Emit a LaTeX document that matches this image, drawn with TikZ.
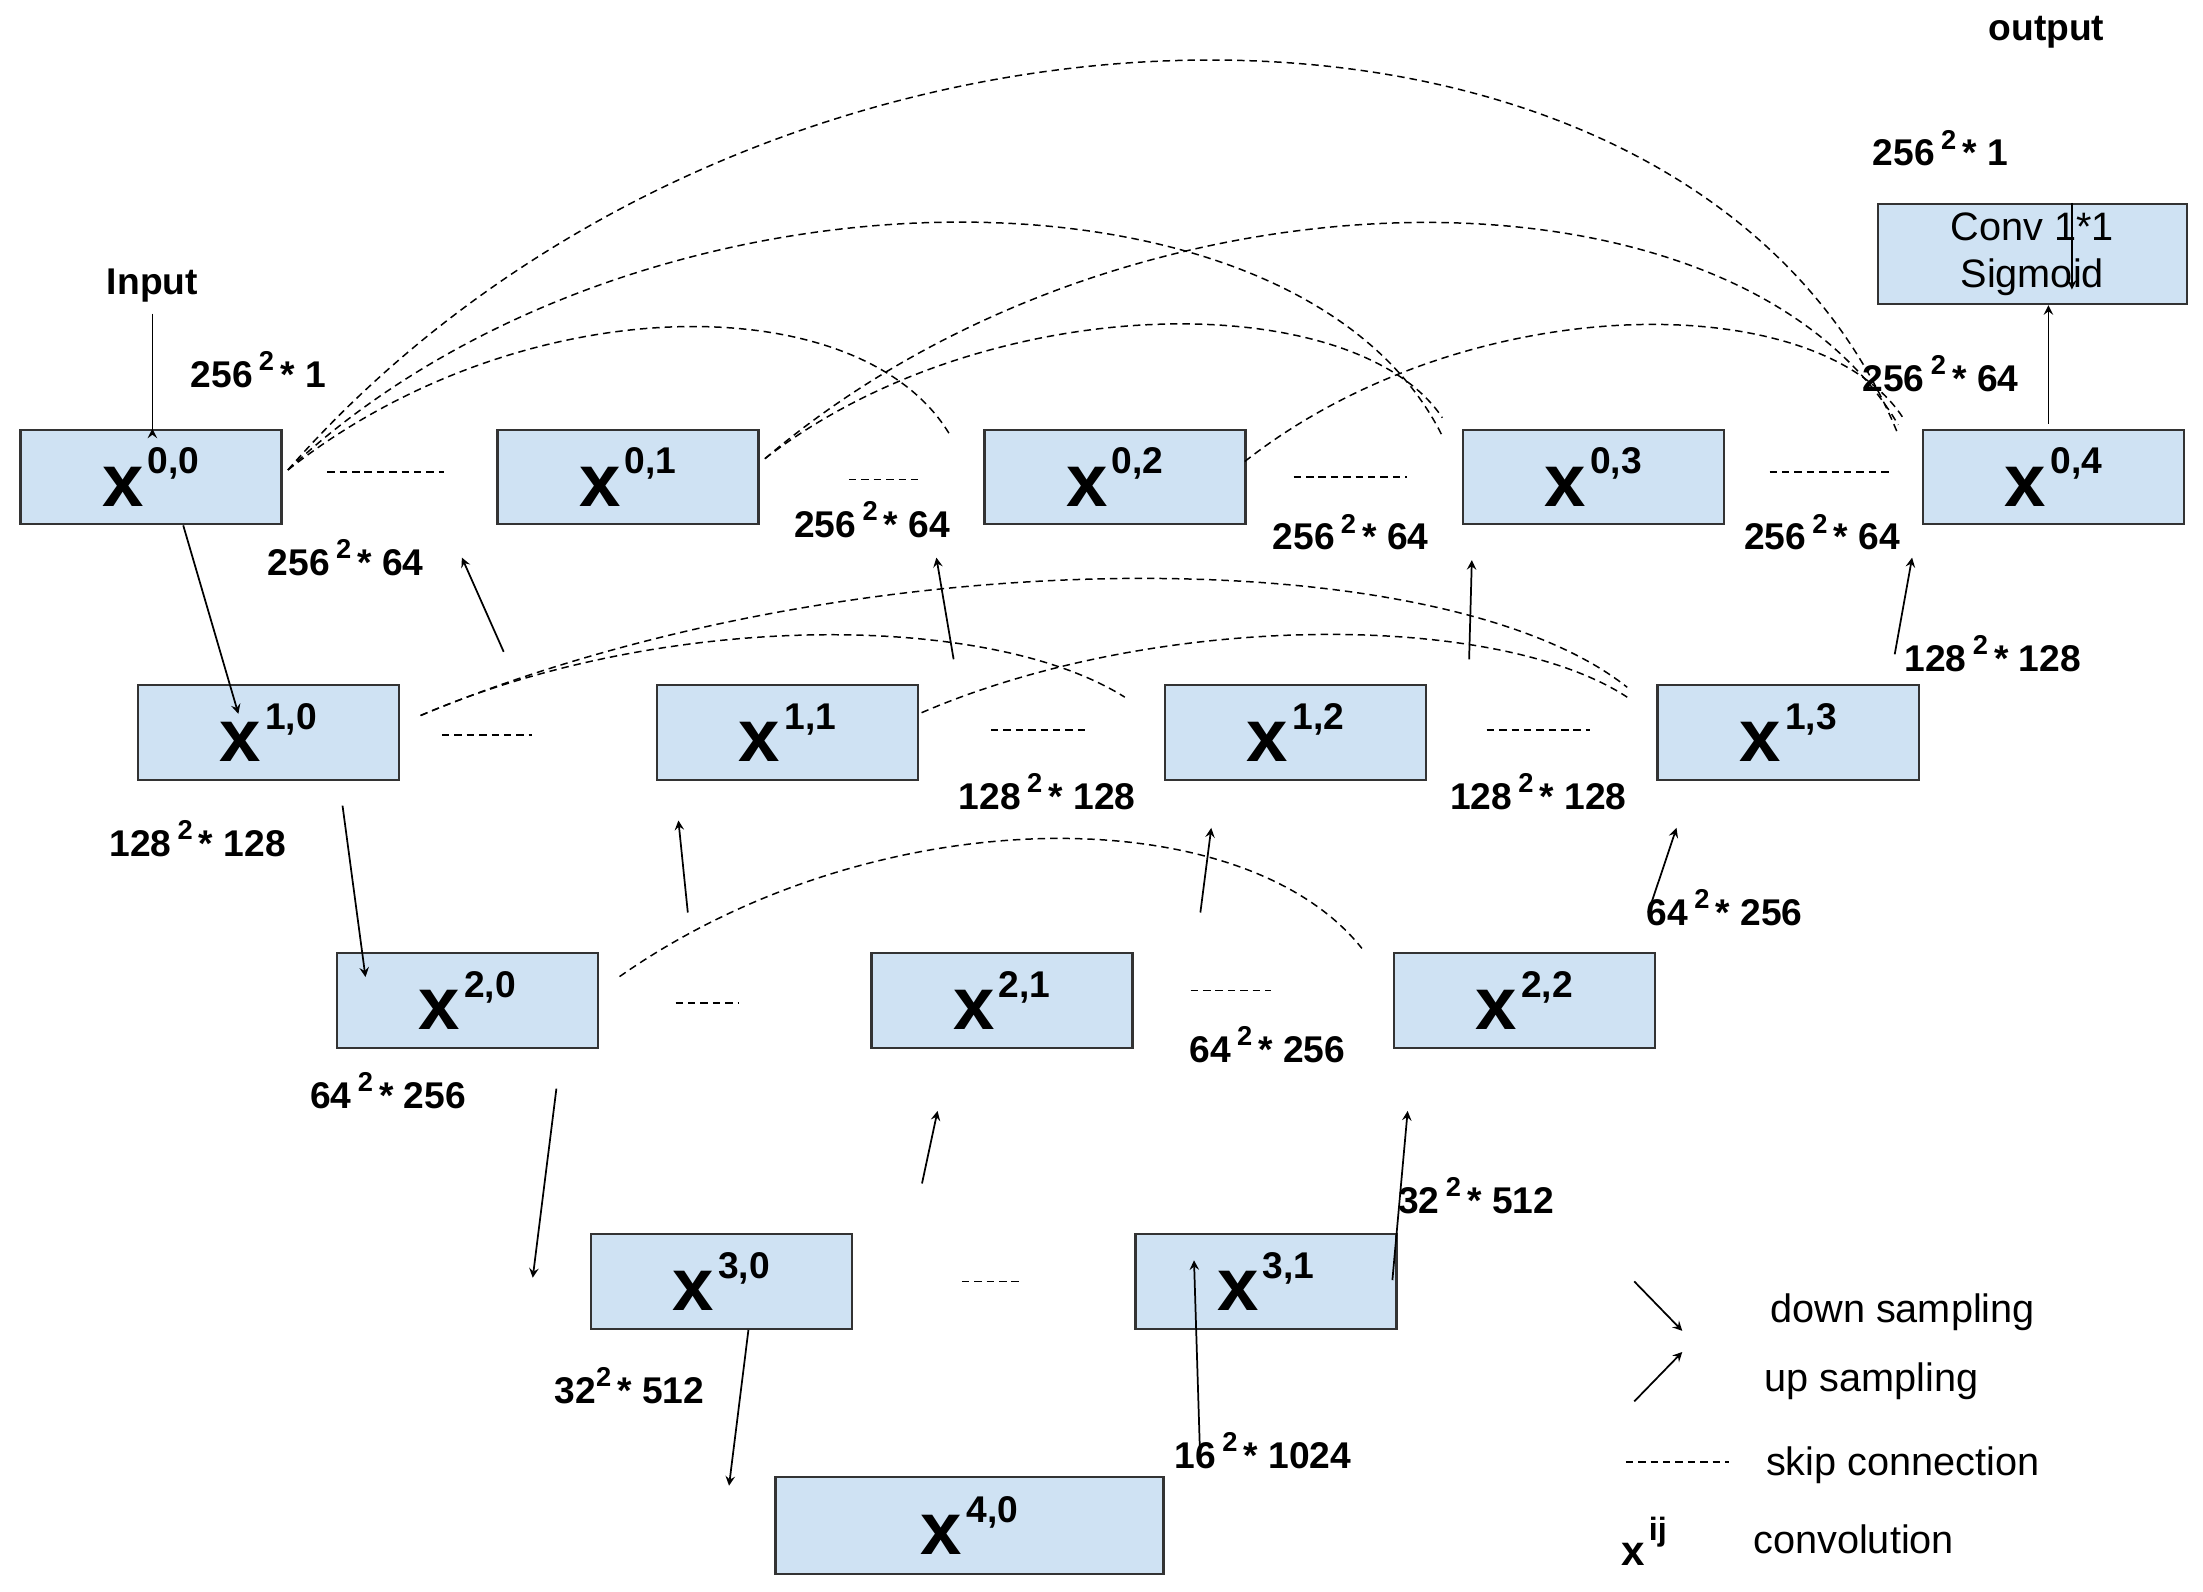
\documentclass[tikz,border=0pt]{standalone}
\usepackage{fontspec}
\setmainfont{Liberation Sans}
\newcommand\dl[2]{#1\,\raisebox{0.45em}{\fontsize{11}{11}\selectfont 2}\,* #2}
\newcommand\xn[1]{{\fontsize{30}{30}\selectfont\bfseries x}\,\raisebox{13pt}{\fontsize{15}{15}\selectfont\bfseries #1}}
\begin{document}
\begin{tikzpicture}[x=0.02cm,y=-0.02cm,
  blk/.style={draw=black!80,line width=0.9pt,fill={rgb,255:red,207;green,226;blue,243},minimum width=3.7cm,minimum height=1.34cm,inner sep=0pt},
  lab/.style={font=\fontsize{15}{15}\selectfont\bfseries,inner sep=0pt},
  leg/.style={font=\fontsize{16}{16}\selectfont,inner sep=0pt,anchor=west},
  ar/.style={->,>=stealth,line width=0.7pt},
  sk/.style={dashed,dash pattern=on 3pt off 2pt,line width=0.6pt}]
\useasboundingbox (0,0) rectangle (1561,1128);
\node[blk] (x00) at (107,338) {\xn{0,0}};
\node[blk] (x01) at (445,338) {\xn{0,1}};
\node[blk] (x02) at (790,338) {\xn{0,2}};
\node[blk] (x03) at (1129,338) {\xn{0,3}};
\node[blk] (x04) at (1455,338) {\xn{0,4}};
\node[blk] (x10) at (190,519) {\xn{1,0}};
\node[blk] (x11) at (558,519) {\xn{1,1}};
\node[blk] (x12) at (918,519) {\xn{1,2}};
\node[blk] (x13) at (1267,519) {\xn{1,3}};
\node[blk] (x20) at (331,709) {\xn{2,0}};
\node[blk] (x21) at (710,709) {\xn{2,1}};
\node[blk] (x22) at (1080,709) {\xn{2,2}};
\node[blk] (x30) at (511,908) {\xn{3,0}};
\node[blk] (x31) at (897,908) {\xn{3,1}};
\node[blk,minimum width=5.5cm,minimum height=1.38cm] (x40) at (687,1081) {\xn{4,0}};
\node[blk,minimum width=4.38cm,minimum height=1.42cm,align=center,font=\fontsize{16}{19}\selectfont] (conv) at (1440,180) {Conv 1*1\\Sigmoid};
\node[lab] (inp) at (108,202) {Input};
\node[lab] (out) at (1450,23) {output};
% arrows
\draw[ar] (inp.south) ++(0,8) coordinate (i1) -- (i1 |- x00.north) ++(0,0);
\draw[ar] ([xshift=13]x00.south) -- ([xshift=-12,yshift=-12]x10.north);
\draw[ar] ([xshift=30,yshift=-10]x10.south) -- ([xshift=-41,yshift=-10]x20.north);
\draw[ar] ([xshift=36,yshift=-16]x20.south) -- ([xshift=-76,yshift=-18]x30.north);
\draw[ar] ([xshift=11]x30.south) -- ([xshift=-97,yshift=-4]x40.north);
\draw[ar] ([xshift=93,yshift=7]x40.north) -- ([xshift=-29,yshift=-11]x31.north);
\draw[ar] ([xshift=51,yshift=-19]x31.north) -- ([xshift=-47,yshift=-25]x22.south);
\draw[ar] ([xshift=81,yshift=20]x30.north) -- ([xshift=-26,yshift=-25]x21.south);
\draw[ar] ([xshift=80,yshift=16]x21.north) -- ([xshift=-34,yshift=-19]x12.south);
\draw[ar] ([xshift=50,yshift=16]x22.north) -- ([xshift=-45,yshift=-19]x13.south);
\draw[ar] ([xshift=89,yshift=16]x20.north) -- ([xshift=-44,yshift=-16]x11.south);
\draw[ar] ([xshift=67,yshift=10]x11.north) -- ([xshift=-72,yshift=-13]x02.south);
\draw[ar] ([xshift=70,yshift=10]x12.north) -- ([xshift=-49,yshift=-14]x03.south);
\draw[ar] ([xshift=43,yshift=12]x13.north) -- ([xshift=-57,yshift=-13]x04.south);
\draw[ar] ([xshift=95,yshift=13]x10.north) -- ([xshift=-67,yshift=-13]x01.south);
\draw[ar] ([xshift=-2,yshift=2]x04.north) -- ([xshift=-2]x04.north |- conv.south);
\draw[ar] ([xshift=16]conv.north) -- ([xshift=16,yshift=-35]conv.north);
% straight skips
\draw[sk] ([xshift=18,yshift=2]x00.east) -- ([xshift=-21,yshift=2]x01.west);
\draw[sk] ([xshift=36,yshift=-1]x01.east) -- ([xshift=-25,yshift=-1]x02.west);
\draw[sk] ([xshift=19]x02.east) -- ([xshift=-22]x03.west);
\draw[sk] ([xshift=18,yshift=2]x03.east) -- ([xshift=-12,yshift=2]x04.west);
\draw[sk] ([xshift=17,yshift=-1]x10.east) -- ([xshift=-50,yshift=-1]x11.west);
\draw[sk] ([xshift=29,yshift=1]x11.east) -- ([xshift=-30,yshift=1]x12.west);
\draw[sk] ([xshift=24,yshift=1]x12.east) -- ([xshift=-27,yshift=1]x13.west);
\draw[sk] ([xshift=31,yshift=-1]x20.east) -- ([xshift=-53,yshift=-1]x21.west);
\draw[sk] ([xshift=23,yshift=4]x21.east) -- ([xshift=-49,yshift=4]x22.west);
\draw[sk] ([xshift=44]x30.east) -- ([xshift=-46]x31.west);
% curved skips
\coordinate (a0) at (204,333);
\draw[sk] (a0) .. controls (540,-50) and (1200,-50) .. (1345,308);
\draw[sk] (a0) .. controls (450,103) and (920,103) .. (1022,309);
\draw[sk] (a0) .. controls (370,202) and (610,202) .. (673,308);
\coordinate (a1) at (542,325);
\draw[sk] (a1) .. controls (700,203) and (960,203) .. (1022,296);
\draw[sk] (a1) .. controls (800,106) and (1230,106) .. (1345,301);
\draw[sk] (882,327) .. controls (1040,203) and (1290,203) .. (1349,297);
\coordinate (b0) at (298,507);
\draw[sk] (b0) .. controls (600,381) and (1020,381) .. (1153,487);
\draw[sk] (b0) .. controls (470,433) and (700,433) .. (797,494);
\draw[sk] (653,505) .. controls (820,433) and (1060,433) .. (1153,494);
\draw[sk] (439,692) .. controls (620,565) and (880,565) .. (965,672);
% labels
\node[lab] at (183,262) {\dl{256}{1}};
\node[lab] at (245,395) {\dl{256}{64}};
\node[lab] at (618,368) {\dl{256}{64}};
\node[lab] at (957,377) {\dl{256}{64}};
\node[lab] at (1291,377) {\dl{256}{64}};
\node[lab] at (1375,265) {\dl{256}{64}};
\node[lab] at (1375,105) {\dl{256}{1}};
\node[lab] at (140,594) {\dl{128}{128}};
\node[lab] at (742,561) {\dl{128}{128}};
\node[lab] at (1090,561) {\dl{128}{128}};
\node[lab] at (1412,463) {\dl{128}{128}};
\node[lab] at (275,773) {\dl{64}{256}};
\node[lab] at (898,740) {\dl{64}{256}};
\node[lab] at (1222,643) {\dl{64}{256}};
\node[lab] at (1046,847) {\dl{32}{512}};
\node[lab] at (446,982) {32\raisebox{0.45em}{\fontsize{11}{11}\selectfont 2}\,* 512};
\node[lab] at (895,1028) {\dl{16}{1024}};
% legend
\coordinate (l1a) at (1158,908); \coordinate (l1b) at (1192,943);
\draw[ar] (l1a) -- (l1b);
\coordinate (l2a) at (1158,993); \coordinate (l2b) at (1192,958);
\draw[ar] (l2a) -- (l2b);
\coordinate (l3a) at (1152,1036); \coordinate (l3b) at (1225,1036);
\draw[sk] (l3a) -- (l3b);
\node[inner sep=0pt] at (1165,1092) {{\fontsize{17}{17}\selectfont\bfseries x}\,\raisebox{10pt}{\fontsize{13}{13}\selectfont\bfseries ij}};
\node[leg] at (1254,930) {down sampling};
\node[leg] at (1250,979) {up sampling};
\node[leg] at (1251,1038) {skip connection};
\node[leg] at (1242,1091) {convolution};
\end{tikzpicture}
\end{document}
